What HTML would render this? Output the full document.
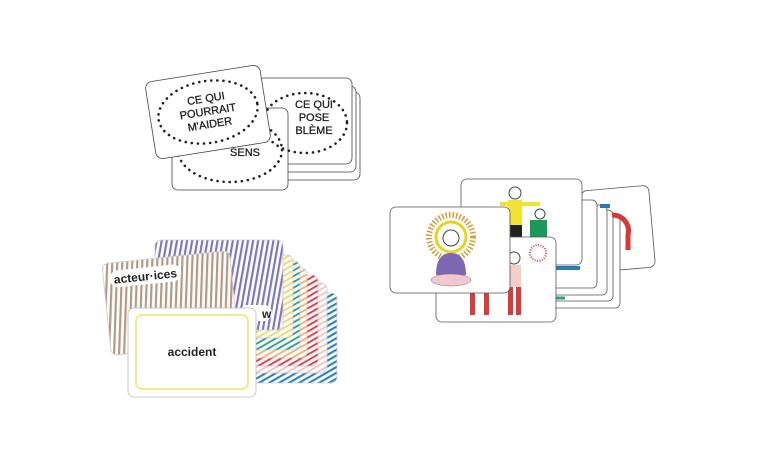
<!DOCTYPE html>
<html><head><meta charset="utf-8"><style>
html,body{margin:0;padding:0;background:#fff;width:769px;height:450px;overflow:hidden}
svg{display:block}
text{font-family:"Liberation Sans",sans-serif}
</style></head><body>
<svg width="769" height="450" viewBox="0 0 769 450" xmlns="http://www.w3.org/2000/svg">
<defs>
<pattern id="pp" width="5" height="5" patternUnits="userSpaceOnUse" patternTransform="rotate(10)"><rect width="5" height="5" fill="#fff"/><rect width="2.2" height="5" fill="#7d77bd"/></pattern>
<pattern id="pb" width="5" height="5" patternUnits="userSpaceOnUse" patternTransform="rotate(8)"><rect width="5" height="5" fill="#fff"/><rect width="2.2" height="5" fill="#b49a85"/></pattern>
<pattern id="py" width="5" height="5" patternUnits="userSpaceOnUse" patternTransform="rotate(60)"><rect width="5" height="5" fill="#fff"/><rect width="2" height="5" fill="#efd97a"/></pattern>
<pattern id="pg" width="5" height="5" patternUnits="userSpaceOnUse" patternTransform="rotate(60)"><rect width="5" height="5" fill="#fff"/><rect width="2" height="5" fill="#3aa58a"/></pattern>
<pattern id="po" width="5" height="5" patternUnits="userSpaceOnUse" patternTransform="rotate(60)"><rect width="5" height="5" fill="#fff"/><rect width="2" height="5" fill="#f0b779"/></pattern>
<pattern id="pr" width="5" height="5" patternUnits="userSpaceOnUse" patternTransform="rotate(60)"><rect width="5" height="5" fill="#fff"/><rect width="2" height="5" fill="#e0454e"/></pattern>
<pattern id="pk" width="5" height="5" patternUnits="userSpaceOnUse" patternTransform="rotate(60)"><rect width="5" height="5" fill="#fff"/><rect width="2" height="5" fill="#f3c8c4"/></pattern>
<pattern id="pl" width="5" height="5" patternUnits="userSpaceOnUse" patternTransform="rotate(60)"><rect width="5" height="5" fill="#fff"/><rect width="2.2" height="5" fill="#2f86c3"/></pattern>
</defs>

<g fill="#fff" stroke="#444" stroke-width="0.8">
<rect x="266" y="92" width="94" height="88" rx="6"/>
<rect x="262" y="86" width="94" height="86" rx="6"/>
<rect x="258" y="78" width="94" height="86" rx="6"/>
<rect x="172" y="108" width="116" height="82" rx="6"/>
</g>
<ellipse cx="305" cy="123" rx="42" ry="30" fill="none" stroke="#222" stroke-width="2.6" stroke-dasharray="0.1 6" stroke-linecap="round"/>
<ellipse cx="230" cy="150" rx="52" ry="32" fill="none" stroke="#222" stroke-width="2.6" stroke-dasharray="0.1 6" stroke-linecap="round"/>
<text x="314" y="108" font-size="11" text-anchor="middle" fill="#222" stroke="#222" stroke-width="0.3">CE QUI</text>
<text x="314" y="121" font-size="11" text-anchor="middle" fill="#222" stroke="#222" stroke-width="0.3">POSE</text>
<text x="314" y="134" font-size="11" text-anchor="middle" fill="#222" stroke="#222" stroke-width="0.3">BLÈME</text>
<text x="245" y="156" font-size="11" text-anchor="middle" fill="#222" stroke="#222" stroke-width="0.3">SENS</text>
<g transform="rotate(-9 208 112)">
<rect x="150" y="73" width="116" height="78" rx="7" fill="#fff" stroke="#444" stroke-width="0.8"/>
<ellipse cx="208" cy="112" rx="50" ry="31" fill="none" stroke="#222" stroke-width="2.6" stroke-dasharray="0.1 6" stroke-linecap="round"/>
<text x="208" y="102" font-size="11" text-anchor="middle" fill="#222" stroke="#222" stroke-width="0.3">CE QUI</text>
<text x="208" y="115" font-size="11" text-anchor="middle" fill="#222" stroke="#222" stroke-width="0.3">POURRAIT</text>
<text x="208" y="128" font-size="11" text-anchor="middle" fill="#222" stroke="#222" stroke-width="0.3">M'AIDER</text>
</g>

<g stroke="#ccc" stroke-width="0.8">
<rect x="210" y="293" width="127" height="90" rx="6" fill="url(#pl)"/>
<rect x="200" y="283" width="127" height="90" rx="6" fill="url(#pk)"/>
<rect x="191" y="275" width="127" height="91" rx="6" fill="url(#pr)"/>
<rect x="180" y="268" width="127" height="90" rx="6" fill="url(#po)"/>
<rect x="173" y="261" width="127" height="89" rx="6" fill="url(#pg)"/>
<rect x="166" y="255" width="127" height="83" rx="6" fill="url(#py)"/>
<rect x="155" y="240" width="128" height="90" rx="6" fill="url(#pp)"/>
</g>
<rect x="240" y="305" width="32" height="16" rx="8" fill="#fff"/>
<text x="262" y="318" font-size="12" font-weight="bold" fill="#222">w</text>
<g transform="rotate(-6 170 300)">
<rect x="106" y="257" width="128" height="92" rx="6" fill="url(#pb)" stroke="#ccc" stroke-width="0.8"/>
<rect x="112" y="265" width="72" height="17" rx="8.5" fill="#fff"/>
<text x="148" y="278" font-size="12" font-weight="bold" text-anchor="middle" fill="#222">acteur·ices</text>
</g>
<rect x="128" y="308" width="128" height="89" rx="6" fill="#fff" stroke="#bbb" stroke-width="0.8"/>
<rect x="136" y="315" width="112" height="74" rx="6" fill="none" stroke="#f0eb8a" stroke-width="2"/>
<text x="192" y="356" font-size="12" font-weight="bold" text-anchor="middle" fill="#222">accident</text>

<g transform="rotate(-5 618 228)">
<rect x="584" y="188" width="68" height="82" rx="6" fill="#fff" stroke="#555" stroke-width="0.8"/>
</g>
<g fill="#fff" stroke="#555" stroke-width="0.8">
<rect x="520" y="215" width="100" height="93" rx="5"/>
<rect x="515" y="210" width="98" height="91" rx="5"/>
<rect x="510" y="205" width="97" height="90" rx="5"/>
<rect x="505" y="200" width="92" height="88" rx="5"/>
</g>
<path d="M612 215 a16 16 0 0 1 16 20 l0 15" fill="none" stroke="#d83838" stroke-width="5"/>
<path d="M600 206 l10 0" stroke="#2b79b8" stroke-width="4"/>
<path d="M540 298 l25 0" stroke="#2aa07a" stroke-width="3"/>
<path d="M555 268 l25 0" stroke="#2b79b8" stroke-width="4"/>
<rect x="461" y="179" width="121" height="86" rx="6" fill="#fff" stroke="#555" stroke-width="0.8"/>
<rect x="508" y="200" width="14" height="25" fill="#f1e232"/>
<path d="M500 204 l40 0" stroke="#f1e232" stroke-width="4"/>
<circle cx="515" cy="193" r="6" fill="#fff" stroke="#444"/>
<rect x="508" y="225" width="14" height="22" fill="#222"/>
<rect x="530" y="220" width="17" height="25" fill="#1a9a56"/>
<circle cx="540" cy="214" r="5" fill="#fff" stroke="#444"/>
<rect x="436" y="237" width="120" height="85" rx="6" fill="#fff" stroke="#555" stroke-width="0.8"/>
<rect x="507" y="265" width="14" height="22" fill="#f3cfc6"/>
<circle cx="514" cy="258" r="6" fill="#fff" stroke="#444"/>
<rect x="508" y="287" width="5" height="28" fill="#d93a3a"/><rect x="516" y="287" width="5" height="28" fill="#d93a3a"/>
<rect x="470" y="290" width="5" height="25" fill="#d93a3a"/><rect x="484" y="290" width="5" height="25" fill="#d93a3a"/>
<circle cx="538" cy="253" r="8" fill="none" stroke="#e8393d" stroke-width="2" stroke-dasharray="1 1.5"/>
<rect x="390" y="207" width="120" height="86" rx="6" fill="#fff" stroke="#555" stroke-width="0.8"/>
<circle cx="451" cy="237" r="22" fill="none" stroke="#d99a3a" stroke-width="6" stroke-dasharray="1.5 2"/>
<circle cx="451" cy="237" r="15" fill="#fff" stroke="#e6d41f" stroke-width="3"/>
<circle cx="451" cy="238" r="8" fill="#fff" stroke="#444"/>
<path d="M436 275 q0 -22 15 -22 q15 0 15 22 z" fill="#7e68b3"/>
<ellipse cx="451" cy="280" rx="20" ry="6" fill="#f3c7cf" stroke="#777" stroke-width="0.5"/>
</svg>
</body></html>
